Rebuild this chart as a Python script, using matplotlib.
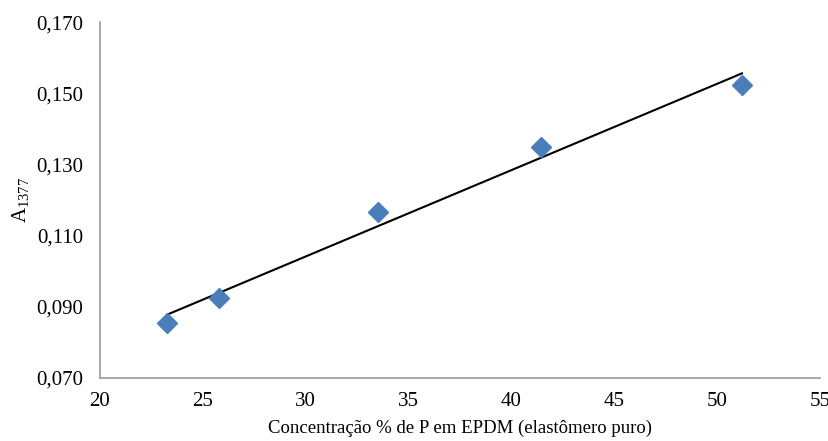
import numpy as np
import matplotlib
matplotlib.use("Agg")
import matplotlib.pyplot as plt

# dados
conc = [23.26, 25.78, 33.51, 41.44, 51.21]
absorb = [0.0855, 0.0925, 0.1166, 0.1349, 0.1523]
x_ticks = [20, 25, 30, 35, 40, 45, 50, 55]
y_ticks = [0.070, 0.090, 0.110, 0.130, 0.150, 0.170]

plt.rcParams["font.family"] = ["Liberation Serif", "DejaVu Serif"]
plt.rcParams["mathtext.fontset"] = "custom"
plt.rcParams["mathtext.rm"] = "Liberation Serif"
plt.rcParams["mathtext.it"] = "Liberation Serif:italic"

fig = plt.figure(figsize=(8.29, 4.41), dpi=100)
ax = fig.add_axes([0.1206, 0.1429, 0.8685, 0.8071])

# linha de tendência linear
coef = np.polyfit(conc, absorb, 1)
xs = np.array([min(conc), max(conc)])
ax.plot(xs, np.polyval(coef, xs), color="black", lw=1.5, zorder=2)

ax.plot(conc, absorb, linestyle="none", marker="D", markersize=10,
        color="#4a7ebb", zorder=3)

ax.set_xlim(20, 55)
ax.set_ylim(0.070, 0.170)
ax.set_xticks(x_ticks)
ax.set_yticks(y_ticks)
ax.set_yticklabels([f"{v:.3f}".replace(".", ",") for v in y_ticks])
ax.tick_params(length=0, labelsize=15)
ax.tick_params(axis="y", pad=12)
ax.tick_params(axis="x", pad=10)

for s in ["top", "right"]:
    ax.spines[s].set_visible(False)
for s in ["left", "bottom"]:
    ax.spines[s].set_color("#9a9a9a")
    ax.spines[s].set_linewidth(1.2)

ax.set_xlabel("Concentração % de P em EPDM (elastômero puro)", fontsize=13.5, labelpad=6)
ax.set_ylabel(r"A$_{\mathregular{1377}}$", fontsize=15, labelpad=4)

fig.savefig("out.png", dpi=100)
